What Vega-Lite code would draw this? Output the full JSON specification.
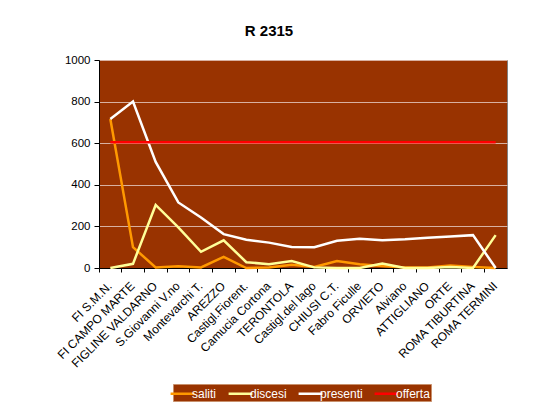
{
  "$schema": "https://vega.github.io/schema/vega-lite/v6.json",
  "autosize": {"type": "none"},
  "width": 408,
  "height": 208,
  "padding": {"left": 99, "top": 60, "right": 41, "bottom": 135},
  "background": "white",
  "title": {
    "text": "R 2315",
    "font": "Liberation Sans",
    "fontSize": 15,
    "fontWeight": "bold",
    "color": "black",
    "anchor": "middle",
    "dx": -34,
    "baseline": "alphabetic",
    "offset": 3
  },
  "data": {
    "values": [
      {"stazione": "FI S.M.N.", "saliti": 716, "discesi": 0, "presenti": 716, "offerta": 605},
      {"stazione": "FI CAMPO MARTE", "saliti": 100, "discesi": 20, "presenti": 800, "offerta": 605},
      {"stazione": "FIGLINE VALDARNO", "saliti": 3, "discesi": 303, "presenti": 510, "offerta": 605},
      {"stazione": "S.Giovanni V.no", "saliti": 8, "discesi": 195, "presenti": 315, "offerta": 605},
      {"stazione": "Montevarchi T.", "saliti": 3, "discesi": 78, "presenti": 243, "offerta": 605},
      {"stazione": "AREZZO", "saliti": 53, "discesi": 133, "presenti": 163, "offerta": 605},
      {"stazione": "Castigl.Fiorent.", "saliti": 0, "discesi": 28, "presenti": 136, "offerta": 605},
      {"stazione": "Camucia Cortona", "saliti": 2, "discesi": 18, "presenti": 122, "offerta": 605},
      {"stazione": "TERONTOLA", "saliti": 15, "discesi": 34, "presenti": 101, "offerta": 605},
      {"stazione": "Castigl.del lago", "saliti": 5, "discesi": 3, "presenti": 100, "offerta": 605},
      {"stazione": "CHIUSI C.T.", "saliti": 34, "discesi": 0, "presenti": 131, "offerta": 605},
      {"stazione": "Fabro Ficulle", "saliti": 18, "discesi": 0, "presenti": 141, "offerta": 605},
      {"stazione": "ORVIETO", "saliti": 10, "discesi": 22, "presenti": 133, "offerta": 605},
      {"stazione": "Alviano", "saliti": 2, "discesi": 0, "presenti": 138, "offerta": 605},
      {"stazione": "ATTIGLIANO", "saliti": 2, "discesi": 0, "presenti": 146, "offerta": 605},
      {"stazione": "ORTE", "saliti": 12, "discesi": 5, "presenti": 152, "offerta": 605},
      {"stazione": "ROMA TIBURTINA", "saliti": 5, "discesi": 0, "presenti": 158, "offerta": 605},
      {"stazione": "ROMA TERMINI", "saliti": 0, "discesi": 158, "presenti": 0, "offerta": 605}
    ]
  },
  "transform": [
    {"fold": ["saliti", "discesi", "presenti", "offerta"], "as": ["serie", "valore"]}
  ],
  "layer": [
    {
      "mark": {"type": "line", "strokeWidth": 2.5, "strokeJoin": "miter"},
      "encoding": {
        "x": {
          "field": "stazione",
          "type": "nominal",
          "sort": null,
          "bandPosition": 0.5,
          "scale": {"type": "band", "paddingInner": 0, "paddingOuter": 0},
          "axis": {
            "title": null,
            "orient": "bottom",
            "labelAngle": -45,
            "labelAlign": "right",
            "labelBaseline": "top",
            "labelFont": "Liberation Sans",
            "labelFontSize": 12,
            "labelColor": "black",
            "labelPadding": 12,
            "labelOffset": -4,
            "ticks": false,
            "domain": true,
            "domainColor": "black",
            "grid": false,
            "labelOverlap": false,
            "bandPosition": 0.5
          }
        },
        "y": {
          "field": "valore",
          "type": "quantitative",
          "scale": {"domain": [0, 1000], "nice": false},
          "axis": {
            "title": null,
            "values": [0, 200, 400, 600, 800, 1000],
            "format": "d",
            "labelFont": "Liberation Sans",
            "labelFontSize": 11.5,
            "labelColor": "black",
            "domainColor": "black",
            "tickColor": "black",
            "tickSize": 5,
            "labelPadding": 4,
            "grid": true,
            "gridColor": "#d8b0a0",
            "gridWidth": 1
          }
        },
        "color": {
          "field": "serie",
          "type": "nominal",
          "scale": {
            "domain": ["saliti", "discesi", "presenti", "offerta"],
            "range": ["#FF9900", "#FFFF99", "#FFFFFF", "#FF0000"]
          },
          "legend": {
            "title": null,
            "orient": "none",
            "legendX": 74,
            "legendY": 324,
            "direction": "horizontal",
            "fillColor": "#993300",
            "strokeColor": "#c8906c",
            "padding": 1,
            "symbolType": "M-1.7,0H1.7",
            "symbolStrokeWidth": 2.5,
            "symbolSize": 196,
            "labelColor": "white",
            "labelFont": "Liberation Sans",
            "labelFontSize": 12,
            "labelOffset": 1,
            "columnPadding": 6
          }
        }
      }
    },
    {
      "mark": {"type": "point", "opacity": 0},
      "encoding": {
        "x": {
          "field": "stazione",
          "type": "nominal",
          "sort": null,
          "axis": {
            "title": null,
            "orient": "bottom",
            "labels": false,
            "ticks": true,
            "tickColor": "black",
            "tickSize": 4,
            "domain": false,
            "grid": false,
            "bandPosition": 0
          }
        },
        "y": {"field": "valore", "type": "quantitative"}
      }
    }
  ],
  "resolve": {"axis": {"x": "independent"}},
  "config": {
    "view": {"fill": "#993300", "stroke": "#808080", "strokeWidth": 1}
  }
}
